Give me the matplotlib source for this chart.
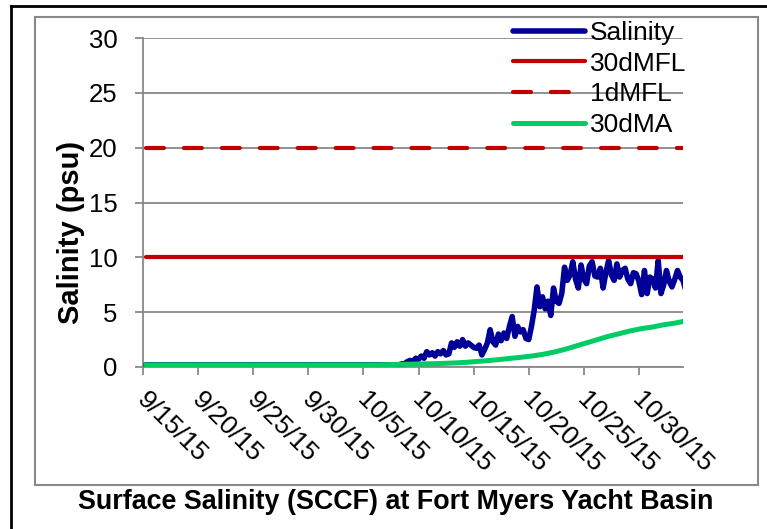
import matplotlib
matplotlib.use("Agg")
import matplotlib.pyplot as plt
from matplotlib.lines import Line2D
from matplotlib.patches import Rectangle
from matplotlib.transforms import ScaledTranslation
import datetime as dt

plt.rcParams['font.family'] = ['Liberation Sans', 'DejaVu Sans']

# ---------------- data ----------------
x_start = dt.datetime(2015, 9, 15)
x_end = dt.datetime(2015, 11, 3)
tick_dates = [dt.datetime(2015, 9, 15) + dt.timedelta(days=5 * i) for i in range(10)]
tick_labels = ["9/15/15", "9/20/15", "9/25/15", "9/30/15", "10/5/15",
               "10/10/15", "10/15/15", "10/20/15", "10/25/15", "10/30/15"]
y_ticks = [0, 5, 10, 15, 20, 25, 30]

# Salinity: flat daily part (from 9/15 06:00), then 6-hourly part (from 10/8 06:00)
sal_flat_start = dt.datetime(2015, 9, 15, 6)
sal_flat = [0.2, 0.2, 0.2, 0.2, 0.2, 0.2, 0.2, 0.2, 0.2, 0.2, 0.2, 0.2,
            0.2, 0.2, 0.2, 0.2, 0.2, 0.2, 0.2, 0.2, 0.2, 0.2, 0.2]
sal_noisy_start = dt.datetime(2015, 10, 8, 6)
sal_noisy = [0.2, 0.3, 0.3, 0.5,
             0.6, 0.5, 0.8, 0.7,
             1.0, 0.8, 1.4, 1.1,
             1.3, 1.0, 1.4, 1.2,
             1.5, 1.1, 1.2, 2.2,
             1.8, 2.3, 1.9, 2.5,
             1.9, 2.2, 2.0, 1.8,
             1.7, 2.0, 1.1, 1.6,
             2.2, 3.4, 2.3, 2.0,
             3.0, 2.4, 3.1, 2.6,
             3.7, 4.6, 2.8, 3.7,
             3.2, 3.4, 2.6, 2.5,
             3.7, 5.2, 7.3, 5.5,
             6.4, 5.3, 6.0, 4.7,
             7.2, 6.0, 5.8, 6.7,
             9.1, 7.9, 8.4, 9.6,
             8.0, 7.2, 9.3, 8.0,
             7.6, 9.2, 9.6, 8.3,
             8.2, 9.0, 7.2, 8.6,
             9.7, 8.4, 7.9, 9.4,
             8.2, 8.8, 9.0, 8.0,
             7.6, 8.6, 8.5, 7.8,
             6.6, 8.8, 6.7, 8.2,
             8.0, 7.2, 9.7, 6.7,
             7.5, 8.8, 7.8, 7.3,
             8.0, 8.8, 8.2, 7.9,
             7.0]

# 30-day moving average, daily from 9/15 06:00
ma_start = dt.datetime(2015, 9, 15, 6)
ma30 = [0.2, 0.2, 0.2, 0.2, 0.2, 0.2, 0.2, 0.2, 0.2, 0.2,
        0.2, 0.2, 0.2, 0.2, 0.2, 0.2, 0.2, 0.2, 0.2, 0.2,
        0.2, 0.2, 0.22, 0.24, 0.26, 0.28, 0.3, 0.33, 0.37, 0.42,
        0.5, 0.58, 0.67, 0.78, 0.88, 1.0, 1.15, 1.35, 1.6, 1.9,
        2.2, 2.5, 2.8, 3.05, 3.3, 3.5, 3.65, 3.85, 4.0, 4.2]

mfl30 = 10
mfl1 = 20
line_start = dt.datetime(2015, 9, 15, 6)
line_end = dt.datetime(2015, 11, 3)

# ---------------- build ----------------
sal_t = [sal_flat_start + dt.timedelta(days=i) for i in range(len(sal_flat))] + \
        [sal_noisy_start + dt.timedelta(hours=6 * i) for i in range(len(sal_noisy))]
sal_v = sal_flat + sal_noisy
ma_t = [ma_start + dt.timedelta(days=i) for i in range(len(ma30))]

W, H = 767, 529
fig = plt.figure(figsize=(W / 100, H / 100), dpi=100)
fig.patch.set_facecolor("white")

ax = fig.add_axes([143 / W, 1 - 367 / H, (683 - 143) / W, (367 - 38) / H])

gray = "#898989"
ax.plot(sal_t, sal_v, color="#000099", lw=4.0, solid_capstyle="round",
        solid_joinstyle="round", label="Salinity", zorder=3)
ax.plot([line_start, line_end], [mfl30, mfl30], color="#C00000", lw=3.0,
        solid_capstyle="round", label="30dMFL", zorder=3)
ax.plot([line_start, line_end], [mfl1, mfl1], color="#C00000", lw=3.0,
        dashes=(4.3, 4.8), dash_capstyle="round", label="1dMFL", zorder=3)
ax.plot(ma_t, ma30, color="#00CC66", lw=3.6, solid_capstyle="round",
        label="30dMA", zorder=4)

ax.set_xlim(x_start, x_end)
ax.set_ylim(0, 30)
ax.set_yticks(y_ticks)
ax.set_xticks(tick_dates)
ax.set_xticklabels(tick_labels, rotation=-45, ha="left", va="top",
                   rotation_mode="anchor")
ax.grid(axis="y", color=gray, lw=1.3)
ax.set_axisbelow(True)
for s in ["top", "right"]:
    ax.spines[s].set_visible(False)
for s in ["left", "bottom"]:
    ax.spines[s].set_color(gray)
    ax.spines[s].set_linewidth(1.3)
ax.tick_params(axis="y", length=6, width=1.3, color=gray, pad=12.5,
               labelsize=18.5)
ax.tick_params(axis="x", length=6, width=1.3, color=gray, pad=9,
               labelsize=19)
offset = ScaledTranslation(6 / 100, 0, fig.dpi_scale_trans)
for lab in ax.get_xticklabels():
    lab.set_transform(lab.get_transform() + offset)

leg = ax.legend(loc="upper left", bbox_to_anchor=(513 / W, 1 - 21 / H),
                bbox_transform=fig.transFigure, frameon=False, fontsize=19,
                handlelength=2.73, handletextpad=0.19, labelspacing=0.25,
                borderaxespad=0, borderpad=0)

fig.text(71 / W, 1 - 232 / H, "Salinity (psu)", rotation=90, ha="center",
         va="center", fontsize=21, fontweight="bold")
fig.text(396 / W, 1 - 502 / H, "Surface Salinity (SCCF) at Fort Myers Yacht Basin",
         ha="center", va="center", fontsize=19.4, fontweight="bold")

fig.add_artist(Rectangle((35 / W, 1 - 485 / H), (758 - 35) / W, (485 - 17) / H,
                         transform=fig.transFigure, fill=False, edgecolor=gray,
                         lw=1.5))
fig.add_artist(Line2D([11 / W, 11 / W], [0, 1 - 6 / H], transform=fig.transFigure,
                      color="black", lw=2))
fig.add_artist(Line2D([11 / W, 1], [1 - 6 / H, 1 - 6 / H], transform=fig.transFigure,
                      color="black", lw=2))

fig.savefig("out.png", dpi=100)
